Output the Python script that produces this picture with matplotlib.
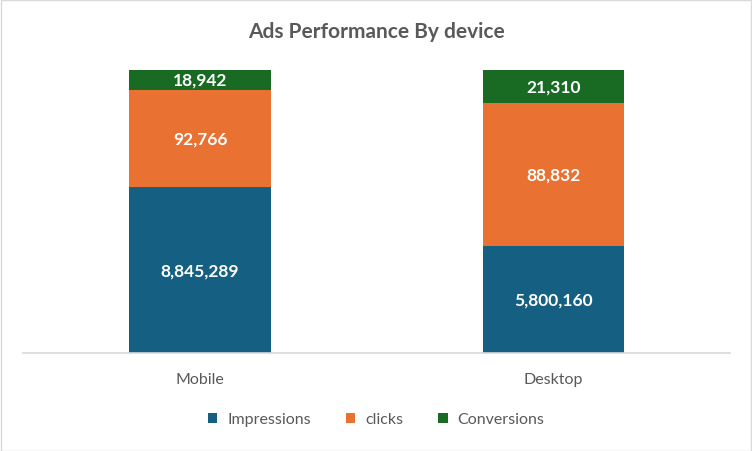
import numpy as np
import matplotlib
matplotlib.use('Agg')
import matplotlib.pyplot as plt
from matplotlib.patches import Rectangle

devices = ['Mobile', 'Desktop']
series = ['Impressions', 'clicks', 'Conversions']
# values shown in the data labels
impressions = [8845289, 5800160]
clicks = [92766, 88832]
conversions = [18942, 21310]
# segment shares (%) as drawn in the reference chart
impressions_share = [58.5, 37.9]
clicks_share = [34.4, 50.4]
conversions_share = [7.1, 11.7]

BLUE = '#156082'
ORANGE = '#E97132'
GREEN = '#196B24'
GREY = '#595959'

plt.rcParams['font.family'] = ['Lato', 'DejaVu Sans']

fig = plt.figure(figsize=(7.52, 4.52), dpi=100)
ax = fig.add_axes([0.031, 0.217, 0.94, 0.626])

x = np.arange(len(devices))
labels = [impressions, clicks, conversions]
shares = [impressions_share, clicks_share, conversions_share]
colors = [BLUE, ORANGE, GREEN]

bottom = np.zeros(len(devices))
for name, vals, share, col in zip(series, labels, shares, colors):
    bars = ax.bar(x, share, 0.4, bottom=bottom, color=col, label=name)
    ax.bar_label(bars, labels=[f'{v:,}' for v in vals], label_type='center',
                 color='white', fontsize=12.5, fontweight='bold')
    bottom += np.array(share)

ax.set_xlim(-0.5, 1.5)
ax.set_ylim(0, 100)
ax.set_yticks([])
for s in ['top', 'left', 'right']:
    ax.spines[s].set_visible(False)
ax.spines['bottom'].set_color('#D9D9D9')
ax.spines['bottom'].set_linewidth(1.2)
ax.set_xticks(x)
ax.set_xticklabels(devices, fontsize=11.5, color=GREY)
ax.tick_params(axis='x', length=0, pad=14)

fig.text(0.5, 0.93, 'Ads Performance By device', ha='center', va='center',
         fontsize=15, fontweight='bold', color=GREY)

fig.legend(loc='center', bbox_to_anchor=(0.5, 0.07), ncol=3, frameon=False,
           fontsize=11.5, labelcolor=GREY, handlelength=0.6, handleheight=0.6,
           columnspacing=2.2, handletextpad=0.6)

fig.patches.append(Rectangle((0.001, 0.001), 0.998, 0.997, transform=fig.transFigure,
                             fill=False, edgecolor='#D9D9D9', linewidth=1))

fig.savefig('out.png', dpi=100)
